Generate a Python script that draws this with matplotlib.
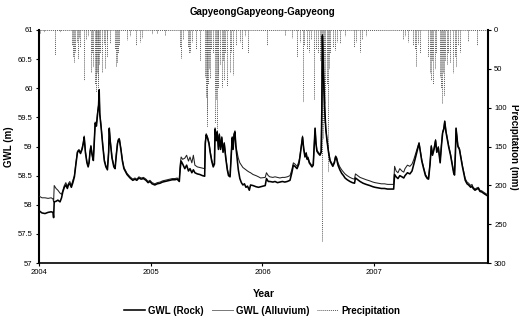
import numpy as np
import matplotlib
matplotlib.use("Agg")
import matplotlib.pyplot as plt
from matplotlib.lines import Line2D

plt.rcParams['font.family'] = ['Liberation Sans', 'DejaVu Sans']

# ---- data (days since 2004-01-01) ----
gwl_days = [0, 10, 20, 30, 40, 46, 48, 50, 56, 62, 69, 74, 78, 83, 88, 93, 97, 101, 106, 111,
            116, 121, 126, 131, 136, 141, 145, 148, 152, 157, 161, 164, 167, 170, 174, 178, 181, 184, 188, 192,
            195, 197, 199, 203, 209, 214, 219, 224, 228, 230, 233, 239, 245, 249, 253, 257, 260, 263, 268, 273,
            278, 288, 298, 307, 314, 320, 327, 334, 342, 350, 357, 363, 370, 379, 387, 396, 404, 412, 420, 428,
            436, 445, 452, 459, 462, 465, 470, 477, 483, 489, 494, 500, 505, 510, 518, 526, 535, 542, 544, 547,
            551, 556, 560, 565, 570, 574, 576, 580, 583, 587, 590, 594, 598, 602, 606, 611, 616, 620, 625, 629,
            632, 635, 638, 641, 644, 648, 652, 657, 662, 667, 672, 677, 682, 688, 692, 700, 710, 718, 725, 740,
            744, 750, 755, 765, 772, 780, 788, 796, 804, 812, 821, 827, 832, 837, 844, 850, 853, 858, 862, 866,
            870, 874, 877, 880, 884, 889, 893, 897, 900, 903, 906, 909, 914, 919, 923, 925, 927, 929, 932, 935,
            938, 942, 947, 952, 957, 961, 966, 970, 973, 978, 984, 990, 996, 1001, 1008, 1017, 1025, 1032, 1035, 1040,
            1050, 1060, 1070, 1082, 1092, 1099, 1110, 1120, 1130, 1140, 1150, 1160, 1163, 1168, 1174, 1180, 1187, 1193, 1197, 1205,
            1213, 1220, 1226, 1233, 1238, 1243, 1247, 1252, 1258, 1264, 1270, 1274, 1279, 1283, 1287, 1292, 1297, 1301, 1306, 1309,
            1312, 1316, 1320, 1324, 1327, 1331, 1336, 1340, 1346, 1351, 1356, 1359, 1362, 1364, 1367, 1370, 1375, 1380, 1385, 1394,
            1400, 1405, 1412, 1416, 1420, 1426, 1432, 1437, 1442, 1448, 1456, 1465]

gwl_rock = [57.90, 57.86, 57.85, 57.87, 57.88, 57.87, 57.78, 58.05, 58.06, 58.08, 58.05, 58.12, 58.22, 58.30, 58.34, 58.28, 58.35, 58.36, 58.30, 58.38,
            58.48, 58.70, 58.90, 58.93, 58.88, 58.95, 59.05, 59.16, 58.90, 58.72, 58.65, 58.72, 58.90, 59.00, 58.85, 58.76, 59.10, 59.40, 59.35, 59.57,
            59.70, 59.97, 59.55, 59.35, 59.00, 58.75, 58.65, 58.60, 58.90, 59.31, 59.10, 58.80, 58.65, 58.62, 58.85, 59.05, 59.11, 59.12, 58.95, 58.75,
            58.62, 58.52, 58.46, 58.42, 58.44, 58.42, 58.46, 58.44, 58.45, 58.42, 58.38, 58.40, 58.36, 58.34, 58.36, 58.37, 58.39, 58.40, 58.41, 58.42,
            58.43, 58.43, 58.44, 58.40, 58.62, 58.75, 58.70, 58.62, 58.68, 58.58, 58.62, 58.55, 58.60, 58.55, 58.53, 58.52, 58.50, 58.49, 59.05, 59.20,
            59.15, 59.05, 58.90, 58.75, 58.65, 58.70, 59.30, 59.10, 59.25, 58.95, 59.20, 58.95, 59.15, 58.90, 59.05, 58.80, 58.60, 58.50, 58.48, 58.85,
            59.15, 58.95, 59.20, 59.25, 59.00, 58.80, 58.60, 58.45, 58.38, 58.34, 58.36, 58.30, 58.32, 58.25, 58.34, 58.33, 58.31, 58.30, 58.31, 58.33,
            58.45, 58.40, 58.40, 58.39, 58.40, 58.38, 58.39, 58.40, 58.39, 58.40, 58.42, 58.55, 58.68, 58.66, 58.62, 58.70, 58.80, 59.00, 59.16, 58.95,
            58.82, 58.88, 58.78, 58.80, 58.72, 58.68, 58.65, 58.68, 59.00, 59.31, 59.05, 58.92, 58.88, 58.85, 58.90, 59.60, 60.90, 60.50, 60.00, 59.60,
            59.30, 59.10, 58.90, 58.75, 58.70, 58.66, 58.72, 58.82, 58.80, 58.68, 58.60, 58.54, 58.50, 58.46, 58.43, 58.40, 58.38, 58.37, 58.46, 58.44,
            58.40, 58.37, 58.35, 58.33, 58.31, 58.30, 58.29, 58.28, 58.28, 58.27, 58.27, 58.27, 58.52, 58.48, 58.45, 58.50, 58.48, 58.46, 58.50, 58.55,
            58.53, 58.58, 58.70, 58.85, 58.95, 59.05, 58.92, 58.75, 58.62, 58.50, 58.45, 58.44, 58.70, 59.00, 58.85, 58.95, 59.10, 58.90, 58.98, 58.85,
            58.72, 59.00, 59.23, 59.30, 59.43, 59.25, 59.10, 58.99, 58.85, 58.70, 58.55, 58.51, 58.90, 59.31, 59.15, 59.00, 58.95, 58.80, 58.65, 58.42,
            58.36, 58.34, 58.30, 58.32, 58.28, 58.25, 58.27, 58.28, 58.23, 58.22, 58.19, 58.16]

gwl_alluvium = [58.15, 58.12, 58.12, 58.11, 58.12, 58.10, 58.05, 58.33, 58.28, 58.25, 58.20, 58.18, 58.24, 58.33, 58.38, 58.31, 58.37, 58.40, 58.33, 58.42,
                58.50, 58.72, 58.92, 58.95, 58.90, 58.97, 59.07, 59.18, 58.92, 58.74, 58.67, 58.74, 58.92, 59.02, 58.87, 58.78, 59.12, 59.42, 59.38, 59.60,
                59.72, 59.98, 59.58, 59.37, 59.02, 58.77, 58.67, 58.62, 58.92, 59.32, 59.12, 58.82, 58.67, 58.64, 58.87, 59.07, 59.13, 59.14, 58.97, 58.77,
                58.64, 58.54, 58.48, 58.44, 58.46, 58.44, 58.48, 58.46, 58.47, 58.44, 58.40, 58.42, 58.38, 58.36, 58.38, 58.39, 58.41, 58.42, 58.43, 58.44,
                58.45, 58.45, 58.46, 58.43, 58.70, 58.82, 58.78, 58.80, 58.85, 58.75, 58.82, 58.72, 58.85, 58.68, 58.65, 58.64, 58.63, 58.62, 59.08, 59.22,
                59.17, 59.07, 58.92, 58.77, 58.67, 58.72, 59.32, 59.12, 59.27, 58.97, 59.22, 58.97, 59.17, 58.92, 59.07, 58.82, 58.62, 58.52, 58.50, 58.87,
                59.17, 58.97, 59.22, 59.27, 59.02, 58.90, 58.80, 58.72, 58.68, 58.64, 58.62, 58.60, 58.58, 58.56, 58.55, 58.52, 58.50, 58.48, 58.46, 58.47,
                58.55, 58.50, 58.48, 58.47, 58.48, 58.47, 58.46, 58.47, 58.47, 58.48, 58.50, 58.60, 58.72, 58.70, 58.66, 58.74, 58.82, 59.02, 59.18, 58.97,
                58.84, 58.90, 58.80, 58.82, 58.74, 58.70, 58.67, 58.70, 59.02, 59.32, 59.07, 58.94, 58.90, 58.87, 58.92, 59.62, 60.92, 60.52, 60.02, 59.62,
                59.32, 59.12, 58.92, 58.77, 58.72, 58.68, 58.74, 58.84, 58.82, 58.72, 58.65, 58.60, 58.56, 58.53, 58.50, 58.47, 58.45, 58.44, 58.53, 58.51,
                58.47, 58.45, 58.43, 58.41, 58.39, 58.38, 58.37, 58.36, 58.36, 58.35, 58.35, 58.35, 58.66, 58.58, 58.55, 58.62, 58.58, 58.56, 58.62, 58.68,
                58.66, 58.70, 58.78, 58.90, 58.98, 59.07, 58.94, 58.77, 58.64, 58.52, 58.47, 58.46, 58.72, 59.02, 58.87, 58.97, 59.12, 58.92, 59.00, 58.87,
                58.74, 59.02, 59.25, 59.32, 59.44, 59.27, 59.12, 59.01, 58.87, 58.72, 58.57, 58.53, 58.92, 59.32, 59.17, 59.02, 58.97, 58.82, 58.67, 58.45,
                58.39, 58.37, 58.33, 58.35, 58.30, 58.27, 58.29, 58.30, 58.25, 58.24, 58.21, 58.18]

rain_days = [2, 16, 52, 69, 108, 111, 114, 118, 123, 128, 131, 134, 147, 154, 160, 170, 173, 177, 183, 185,
             187, 190, 192, 194, 196, 199, 206, 212, 216, 221, 224, 232, 249, 252, 255, 258, 262, 288, 298, 317,
             330, 337, 369, 386, 412, 461, 466, 471, 487, 490, 494, 500, 513, 526, 543, 546, 548, 550, 553, 556,
             559, 562, 569, 576, 579, 581, 584, 587, 592, 598, 602, 605, 610, 615, 625, 628, 634, 644, 657, 664,
             674, 683, 745, 804, 827, 843, 853, 862, 867, 876, 883, 889, 900, 906, 912, 919, 922, 926, 930, 933,
             937, 942, 946, 949, 953, 961, 968, 974, 984, 1001, 1030, 1037, 1050, 1056, 1069, 1190, 1197, 1207, 1223, 1230,
             1234, 1239, 1246, 1272, 1279, 1282, 1285, 1290, 1295, 1300, 1311, 1314, 1318, 1321, 1324, 1328, 1334, 1339, 1344, 1354,
             1359, 1364, 1370, 1377, 1403, 1432]

rain_mm = [4, 3, 32, 3, 20, 35, 41, 28, 15, 38, 10, 22, 64, 12, 8, 54, 30, 48, 70, 62,
           80, 55, 75, 66, 45, 30, 54, 18, 49, 12, 35, 17, 25, 47, 42, 30, 20, 13, 8, 19,
           15, 10, 5, 4, 6, 22, 36, 12, 22, 30, 28, 15, 25, 40, 60, 86, 125, 110, 70, 50,
           62, 25, 30, 120, 90, 128, 75, 58, 45, 73, 40, 64, 30, 72, 54, 28, 58, 20, 16, 24,
           8, 30, 19, 6, 10, 35, 15, 93, 20, 25, 28, 12, 90, 25, 30, 40, 60, 272, 140, 120,
           95, 70, 183, 50, 30, 22, 26, 15, 17, 8, 22, 15, 28, 12, 8, 12, 8, 15, 20, 25,
           47, 18, 30, 35, 56, 65, 40, 69, 50, 30, 60, 75, 94, 55, 85, 40, 45, 30, 42, 56,
           35, 48, 20, 28, 14, 19]

year_labels = ['2004', '2005', '2006', '2007']

# ---- figure ----
base = np.datetime64('2004-01-01')
x_gwl = base + np.array(gwl_days, dtype='timedelta64[D]')
x_rain = base + np.array(rain_days, dtype='timedelta64[D]')

fig = plt.figure(figsize=(5.19, 3.22), dpi=100)
ax = fig.add_axes([0.075, 0.183, 0.865, 0.724])
ax2 = ax.twinx()

rain_col = '#5a5a5a'
ax2.vlines(x_rain, 0, rain_mm, colors=rain_col, linestyles=(0, (1, 1)), linewidth=0.7)
ax2.plot([base, base + np.timedelta64(1468, 'D')], [0.6, 0.6], color=rain_col,
         linestyle=(0, (1, 1)), linewidth=0.7, clip_on=False)
ax2.set_ylim(300, 0)
ax2.set_yticks(range(0, 301, 50))

ax.plot(x_gwl, gwl_alluvium, color='#222222', linewidth=0.75, zorder=3)
ax.plot(x_gwl, gwl_rock, color='black', linewidth=1.15, zorder=4)
ax.set_zorder(ax2.get_zorder() + 1)
ax.patch.set_visible(False)

ax.set_ylim(57, 61)
ax.set_yticks([57, 57.5, 58, 58.5, 59, 59.5, 60, 60.5, 61])
ax.set_yticklabels(['57', '57.5', '58', '58.5', '59', '59.5', '60', '60.5', '61'])
ax.set_xlim(base, base + np.timedelta64(1468, 'D'))
xt = [np.datetime64(y + '-01-01') for y in year_labels]
ax.set_xticks(xt)
ax.set_xticklabels(year_labels)

for a in (ax, ax2):
    a.spines['top'].set_visible(False)
    a.tick_params(labelsize=5.5, length=2.5, width=0.8, pad=2, direction='out')
ax.spines['left'].set_linewidth(1.5)
ax.spines['bottom'].set_linewidth(1.2)
ax2.spines['right'].set_linewidth(1.5)
ax2.spines['left'].set_visible(False)
ax2.spines['bottom'].set_visible(False)
ax.spines['right'].set_visible(False)

ax.set_ylabel('GWL (m)', fontsize=7, fontweight='bold', labelpad=3)
ax2.set_ylabel('Precipitation (mm)', fontsize=7, fontweight='bold', rotation=270, labelpad=9)
ax.set_xlabel('Year', fontsize=7.5, fontweight='bold', labelpad=9)
fig.text(0.505, 0.962, 'GapyeongGapyeong-Gapyeong', ha='center', va='center',
         fontsize=7, fontweight='bold')

handles = [Line2D([], [], color='black', linewidth=1.15),
           Line2D([], [], color='#777777', linewidth=0.7),
           Line2D([], [], color=rain_col, linewidth=0.7, linestyle=(0, (1, 1)))]
fig.legend(handles, ['GWL (Rock)', 'GWL (Alluvium)', 'Precipitation'], loc='center',
           bbox_to_anchor=(0.505, 0.035), ncol=3, frameon=False,
           prop={'weight': 'bold', 'size': 7}, handlelength=2.2, handletextpad=0.3,
           columnspacing=0.8)

fig.savefig('out.png', dpi=100)
